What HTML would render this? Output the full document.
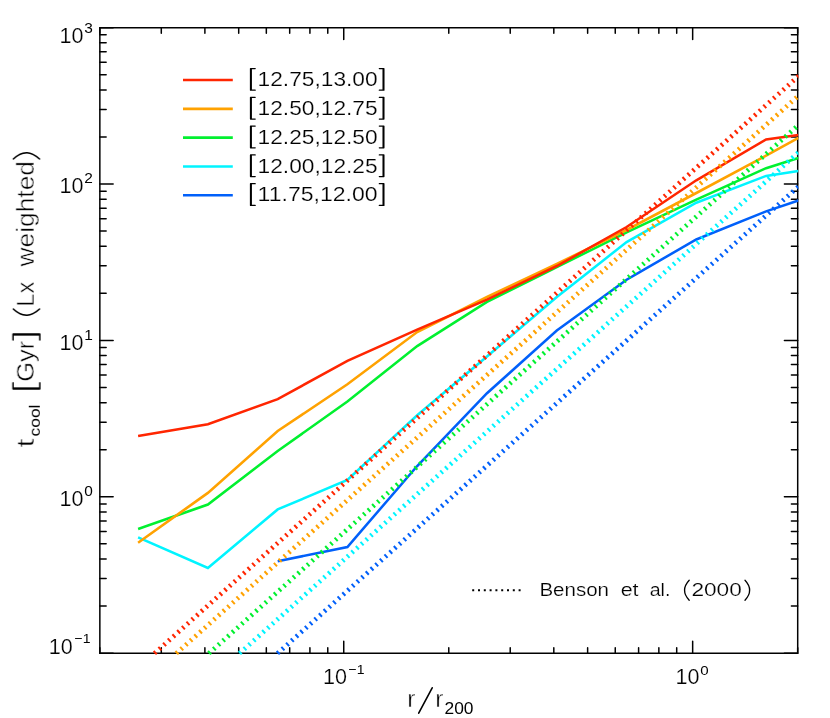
<!DOCTYPE html>
<html><head><meta charset="utf-8"><title>tcool</title>
<style>html,body{margin:0;padding:0;background:#fff}svg{display:block}text{font-family:"Liberation Sans",sans-serif;fill:#000}.t1{stroke:#fff;stroke-width:0.45px}.t2{stroke:#fff;stroke-width:0.2px}</style>
</head><body>
<svg width="830" height="718" viewBox="0 0 830 718">
<rect x="0" y="0" width="830" height="718" fill="#ffffff"/>
<g opacity="0.999">
<defs><clipPath id="cp"><rect x="99.1" y="26.9" width="699.35" height="627.9"/></clipPath></defs>
<g stroke="#000" stroke-width="1.5" fill="none" stroke-linejoin="round">
<rect x="99.85" y="27.65" width="697.85" height="625.5"/>
</g>
<g stroke="#000" stroke-width="1.5" fill="none" stroke-linecap="round">
<path d="M99.85 653.15 v-5.5 M99.85 27.65 v5.5"/>
<path d="M161.29 653.15 v-5.5 M161.29 27.65 v5.5"/>
<path d="M204.89 653.15 v-5.5 M204.89 27.65 v5.5"/>
<path d="M238.70 653.15 v-5.5 M238.70 27.65 v5.5"/>
<path d="M266.33 653.15 v-5.5 M266.33 27.65 v5.5"/>
<path d="M289.69 653.15 v-5.5 M289.69 27.65 v5.5"/>
<path d="M309.92 653.15 v-5.5 M309.92 27.65 v5.5"/>
<path d="M327.77 653.15 v-5.5 M327.77 27.65 v5.5"/>
<path d="M343.74 653.15 v-11.8 M343.74 27.65 v11.8"/>
<path d="M448.77 653.15 v-5.5 M448.77 27.65 v5.5"/>
<path d="M510.22 653.15 v-5.5 M510.22 27.65 v5.5"/>
<path d="M553.81 653.15 v-5.5 M553.81 27.65 v5.5"/>
<path d="M587.63 653.15 v-5.5 M587.63 27.65 v5.5"/>
<path d="M615.25 653.15 v-5.5 M615.25 27.65 v5.5"/>
<path d="M638.61 653.15 v-5.5 M638.61 27.65 v5.5"/>
<path d="M658.85 653.15 v-5.5 M658.85 27.65 v5.5"/>
<path d="M676.70 653.15 v-5.5 M676.70 27.65 v5.5"/>
<path d="M692.66 653.15 v-11.8 M692.66 27.65 v11.8"/>
<path d="M797.70 653.15 v-5.5 M797.70 27.65 v5.5"/>
<path d="M99.85 653.15 h13.3 M797.7 653.15 h-13.3"/>
<path d="M99.85 606.08 h6.3 M797.7 606.08 h-6.3"/>
<path d="M99.85 578.54 h6.3 M797.7 578.54 h-6.3"/>
<path d="M99.85 559.00 h6.3 M797.7 559.00 h-6.3"/>
<path d="M99.85 543.85 h6.3 M797.7 543.85 h-6.3"/>
<path d="M99.85 531.47 h6.3 M797.7 531.47 h-6.3"/>
<path d="M99.85 521.00 h6.3 M797.7 521.00 h-6.3"/>
<path d="M99.85 511.93 h6.3 M797.7 511.93 h-6.3"/>
<path d="M99.85 503.93 h6.3 M797.7 503.93 h-6.3"/>
<path d="M99.85 496.77 h13.3 M797.7 496.77 h-13.3"/>
<path d="M99.85 449.70 h6.3 M797.7 449.70 h-6.3"/>
<path d="M99.85 422.17 h6.3 M797.7 422.17 h-6.3"/>
<path d="M99.85 402.63 h6.3 M797.7 402.63 h-6.3"/>
<path d="M99.85 387.47 h6.3 M797.7 387.47 h-6.3"/>
<path d="M99.85 375.09 h6.3 M797.7 375.09 h-6.3"/>
<path d="M99.85 364.62 h6.3 M797.7 364.62 h-6.3"/>
<path d="M99.85 355.55 h6.3 M797.7 355.55 h-6.3"/>
<path d="M99.85 347.56 h6.3 M797.7 347.56 h-6.3"/>
<path d="M99.85 340.40 h13.3 M797.7 340.40 h-13.3"/>
<path d="M99.85 293.33 h6.3 M797.7 293.33 h-6.3"/>
<path d="M99.85 265.79 h6.3 M797.7 265.79 h-6.3"/>
<path d="M99.85 246.25 h6.3 M797.7 246.25 h-6.3"/>
<path d="M99.85 231.10 h6.3 M797.7 231.10 h-6.3"/>
<path d="M99.85 218.72 h6.3 M797.7 218.72 h-6.3"/>
<path d="M99.85 208.25 h6.3 M797.7 208.25 h-6.3"/>
<path d="M99.85 199.18 h6.3 M797.7 199.18 h-6.3"/>
<path d="M99.85 191.18 h6.3 M797.7 191.18 h-6.3"/>
<path d="M99.85 184.02 h13.3 M797.7 184.02 h-13.3"/>
<path d="M99.85 136.95 h6.3 M797.7 136.95 h-6.3"/>
<path d="M99.85 109.42 h6.3 M797.7 109.42 h-6.3"/>
<path d="M99.85 89.88 h6.3 M797.7 89.88 h-6.3"/>
<path d="M99.85 74.72 h6.3 M797.7 74.72 h-6.3"/>
<path d="M99.85 62.34 h6.3 M797.7 62.34 h-6.3"/>
<path d="M99.85 51.87 h6.3 M797.7 51.87 h-6.3"/>
<path d="M99.85 42.80 h6.3 M797.7 42.80 h-6.3"/>
<path d="M99.85 34.81 h6.3 M797.7 34.81 h-6.3"/>
<path d="M99.85 27.65 h13.3 M797.7 27.65 h-13.3"/>
</g>
<g clip-path="url(#cp)" fill="none" stroke-linejoin="miter" stroke-miterlimit="6" stroke-linecap="butt">
<polyline points="277.7,561.3 347.4,547.0 417.2,466.0 487.0,393.2 556.8,330.5 626.6,279.7 696.3,239.5 766.1,211.4 798.4,200.5" stroke="#0060fa" stroke-width="2.55"/>
<polyline points="138.1,537.3 207.9,567.9 277.7,509.4 347.4,479.9 417.2,415.3 487.0,356.5 556.8,297.1 626.6,242.1 696.3,202.7 766.1,175.9 798.4,170.9" stroke="#00f4ff" stroke-width="2.55"/>
<polyline points="138.1,529.0 207.9,504.5 277.7,451.0 347.4,401.5 417.2,346.1 487.0,301.8 556.8,267.2 626.6,232.4 696.3,199.7 766.1,168.2 798.4,158.0" stroke="#00f030" stroke-width="2.55"/>
<polyline points="138.1,542.7 207.9,492.9 277.7,431.0 347.4,384.3 417.2,332.1 487.0,297.0 556.8,263.9 626.6,230.0 696.3,193.0 766.1,155.6 798.4,137.9" stroke="#ffa200" stroke-width="2.55"/>
<polyline points="138.1,435.9 207.9,424.2 277.7,399.1 347.4,360.9 417.2,329.7 487.0,299.6 556.8,266.0 626.6,227.0 696.3,180.3 766.1,139.4 798.4,135.0" stroke="#ff2600" stroke-width="2.55"/>
<line x1="275.20" y1="655.48" x2="496.08" y2="457.50" stroke="#0060fa" stroke-width="4.7" stroke-dasharray="2 4.293" stroke-dashoffset="3.24"/>
<line x1="496.08" y1="457.50" x2="798.70" y2="186.25" stroke="#0060fa" stroke-width="4.7" stroke-dasharray="2 4.375" stroke-dashoffset="4.17"/>
<line x1="237.20" y1="655.48" x2="458.08" y2="457.50" stroke="#00f4ff" stroke-width="4.7" stroke-dasharray="2 4.293" stroke-dashoffset="3.24"/>
<line x1="458.08" y1="457.50" x2="798.70" y2="152.19" stroke="#00f4ff" stroke-width="4.7" stroke-dasharray="2 4.375" stroke-dashoffset="4.17"/>
<line x1="206.60" y1="655.48" x2="427.48" y2="457.50" stroke="#00f030" stroke-width="4.7" stroke-dasharray="2 4.293" stroke-dashoffset="3.24"/>
<line x1="427.48" y1="457.50" x2="798.70" y2="124.77" stroke="#00f030" stroke-width="4.7" stroke-dasharray="2 4.375" stroke-dashoffset="4.17"/>
<line x1="174.00" y1="655.48" x2="394.88" y2="457.50" stroke="#ffa200" stroke-width="4.7" stroke-dasharray="2 4.293" stroke-dashoffset="3.24"/>
<line x1="394.88" y1="457.50" x2="798.70" y2="95.55" stroke="#ffa200" stroke-width="4.7" stroke-dasharray="2 4.375" stroke-dashoffset="4.17"/>
<line x1="152.20" y1="655.48" x2="373.08" y2="457.50" stroke="#ff2600" stroke-width="4.7" stroke-dasharray="2 4.293" stroke-dashoffset="3.24"/>
<line x1="373.08" y1="457.50" x2="798.70" y2="76.01" stroke="#ff2600" stroke-width="4.7" stroke-dasharray="2 4.375" stroke-dashoffset="4.17"/>
</g>
<text x="59.5" y="42.6" class="t2" font-size="21.2" textLength="24" lengthAdjust="spacingAndGlyphs">10</text><text x="84.3" y="32.6" font-size="14" textLength="8.6" lengthAdjust="spacingAndGlyphs">3</text>
<text x="59.5" y="193.2" class="t2" font-size="21.2" textLength="24" lengthAdjust="spacingAndGlyphs">10</text><text x="84.3" y="183.2" font-size="14" textLength="8.6" lengthAdjust="spacingAndGlyphs">2</text>
<text x="59.5" y="349.6" class="t2" font-size="21.2" textLength="24" lengthAdjust="spacingAndGlyphs">10</text><text x="84.3" y="339.6" font-size="14" textLength="8.6" lengthAdjust="spacingAndGlyphs">1</text>
<text x="59.5" y="506.0" class="t2" font-size="21.2" textLength="24" lengthAdjust="spacingAndGlyphs">10</text><text x="84.3" y="496.0" font-size="14" textLength="8.6" lengthAdjust="spacingAndGlyphs">0</text>
<text x="48.8" y="653.6" class="t2" font-size="21.2" textLength="24" lengthAdjust="spacingAndGlyphs">10</text>
<text x="74.6" y="643.2" font-size="13.5" textLength="16" lengthAdjust="spacingAndGlyphs">−1</text>
<text x="323" y="684.4" class="t2" font-size="21.2" textLength="24" lengthAdjust="spacingAndGlyphs">10</text>
<text x="348.6" y="674" font-size="13.5" textLength="16" lengthAdjust="spacingAndGlyphs">−1</text>
<text x="675.5" y="684.4" class="t2" font-size="21.2" textLength="24" lengthAdjust="spacingAndGlyphs">10</text>
<text x="700.3" y="674.8" font-size="13.5" textLength="8.4" lengthAdjust="spacingAndGlyphs">0</text>
<text x="407.3" y="707.2" class="t1" font-size="24.5">r</text>
<path d="M418.7 713.2 L432.2 687.8" stroke="#000" stroke-width="1.6" stroke-linecap="round" fill="none"/>
<text x="435.2" y="707.2" class="t1" font-size="24.5">r</text>
<text x="444.5" y="713.8" font-size="16.8" textLength="29" lengthAdjust="spacingAndGlyphs">200</text>
<g transform="translate(33.8,447) rotate(-90)">
<text class="t1" x="-0.5" y="0" font-size="23.5" textLength="9" lengthAdjust="spacingAndGlyphs">t</text>
<text x="10.5" y="6.4" font-size="15" textLength="32" lengthAdjust="spacingAndGlyphs">cool</text>
<text class="t1" x="65.2" y="0" font-size="23.5" textLength="41" lengthAdjust="spacingAndGlyphs">Gyr</text>
<text class="t1" x="140.2" y="0" font-size="23.5" textLength="25.2" lengthAdjust="spacingAndGlyphs">Lx</text>
<text class="t1" x="180.5" y="0" font-size="23.5" textLength="105.5" lengthAdjust="spacingAndGlyphs">weighted</text>
<g fill="none" stroke="#000" stroke-width="1.5" stroke-linecap="round" stroke-linejoin="round">
<path d="M64.2 -20.7 H58 V6.1 H64.2 M58.9 -20.7 V6.1"/>
<path d="M107 -20.7 H113 V6.1 H107 M112.1 -20.7 V6.1"/>
<path d="M138 -20.4 Q125.6 -7.3 138 5.7"/>
<path d="M288 -20.4 Q300.4 -7.3 288 5.7"/>
</g>
</g>
<line x1="183" y1="80.0" x2="232.8" y2="80.0" stroke="#ff2600" stroke-width="2.55"/>
<text x="257.6" y="86.2" class="t2" font-size="20" textLength="120" lengthAdjust="spacingAndGlyphs">12.75,13.00</text>
<path d="M255.2 68.5 H250.5 V90.2 H255.2 M251.3 68.5 V90.2 M379.3 68.5 H383.9 V90.2 H379.3 M383.1 68.5 V90.2" fill="none" stroke="#000" stroke-width="1.25" stroke-linecap="round" stroke-linejoin="round"/>
<line x1="183" y1="108.85" x2="232.8" y2="108.85" stroke="#ffa200" stroke-width="2.55"/>
<text x="257.6" y="115.0" class="t2" font-size="20" textLength="120" lengthAdjust="spacingAndGlyphs">12.50,12.75</text>
<path d="M255.2 97.3 H250.5 V119.0 H255.2 M251.3 97.3 V119.0 M379.3 97.3 H383.9 V119.0 H379.3 M383.1 97.3 V119.0" fill="none" stroke="#000" stroke-width="1.25" stroke-linecap="round" stroke-linejoin="round"/>
<line x1="183" y1="137.6" x2="232.8" y2="137.6" stroke="#00f030" stroke-width="2.55"/>
<text x="257.6" y="143.8" class="t2" font-size="20" textLength="120" lengthAdjust="spacingAndGlyphs">12.25,12.50</text>
<path d="M255.2 126.1 H250.5 V147.8 H255.2 M251.3 126.1 V147.8 M379.3 126.1 H383.9 V147.8 H379.3 M383.1 126.1 V147.8" fill="none" stroke="#000" stroke-width="1.25" stroke-linecap="round" stroke-linejoin="round"/>
<line x1="183" y1="166.45" x2="232.8" y2="166.45" stroke="#00f4ff" stroke-width="2.55"/>
<text x="257.6" y="172.6" class="t2" font-size="20" textLength="120" lengthAdjust="spacingAndGlyphs">12.00,12.25</text>
<path d="M255.2 154.9 H250.5 V176.6 H255.2 M251.3 154.9 V176.6 M379.3 154.9 H383.9 V176.6 H379.3 M383.1 154.9 V176.6" fill="none" stroke="#000" stroke-width="1.25" stroke-linecap="round" stroke-linejoin="round"/>
<line x1="183" y1="195.2" x2="232.8" y2="195.2" stroke="#0060fa" stroke-width="2.55"/>
<text x="257.6" y="201.4" class="t2" font-size="20" textLength="120" lengthAdjust="spacingAndGlyphs">11.75,12.00</text>
<path d="M255.2 183.7 H250.5 V205.4 H255.2 M251.3 183.7 V205.4 M379.3 183.7 H383.9 V205.4 H379.3 M383.1 183.7 V205.4" fill="none" stroke="#000" stroke-width="1.25" stroke-linecap="round" stroke-linejoin="round"/>
<line x1="472.2" y1="590.2" x2="520.8" y2="590.2" stroke="#000" stroke-width="2" stroke-dasharray="2 3.8"/>
<text class="t2" x="539.4" y="596.3" font-size="18.9" textLength="69.6" lengthAdjust="spacingAndGlyphs">Benson</text>
<text class="t2" x="620.7" y="596.3" font-size="18.9" textLength="17.9" lengthAdjust="spacingAndGlyphs">et</text>
<text class="t2" x="649.7" y="596.3" font-size="18.9" textLength="20.7" lengthAdjust="spacingAndGlyphs">al.</text>
<text class="t2" x="691.4" y="596.3" font-size="18.9" textLength="50.4" lengthAdjust="spacingAndGlyphs">2000</text>
<path d="M689.2 580.3 Q679.9 590.3 689.2 600.3 M745 580.3 Q754.3 590.3 745 600.3" fill="none" stroke="#000" stroke-width="1.3" stroke-linecap="round"/>
</g></svg></body></html>
